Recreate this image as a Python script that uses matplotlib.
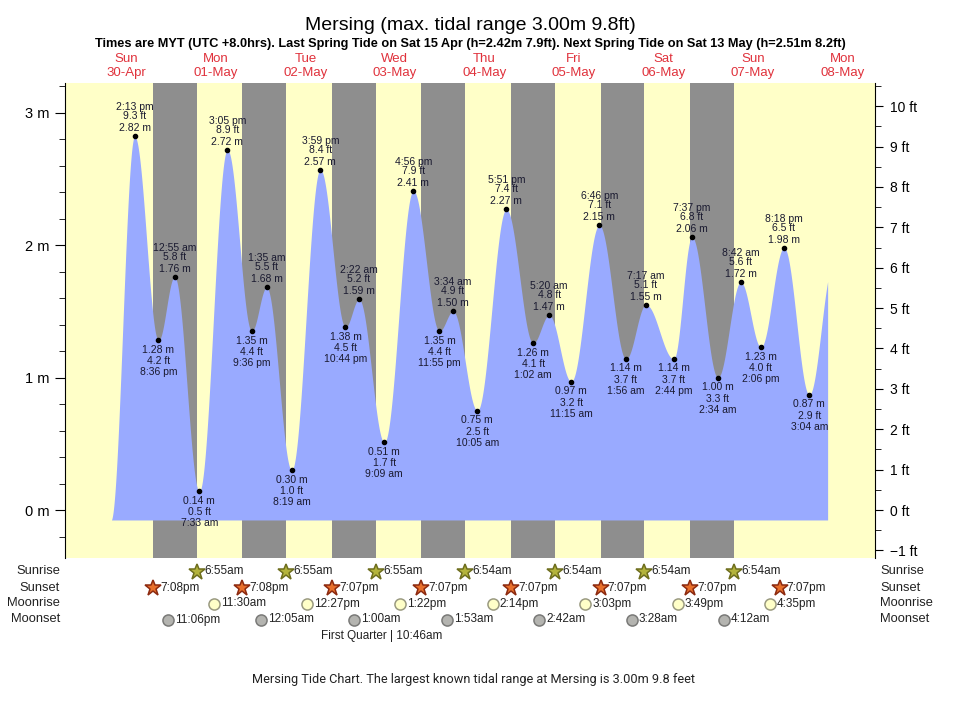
import numpy as np
import matplotlib.pyplot as plt
from matplotlib import transforms

plt.rcParams['font.family'] = ['Liberation Sans', 'DejaVu Sans']

# days shown along the top (index 0 = Sun 30-Apr)
day_names = ['Sun', 'Mon', 'Tue', 'Wed', 'Thu', 'Fri', 'Sat', 'Sun', 'Mon']
day_dates = ['30-Apr', '01-May', '02-May', '03-May', '04-May',
             '05-May', '06-May', '07-May', '08-May']

# tide extremes
tide_day = [0, 0, 1, 1, 1, 1, 2, 2, 2, 2, 3, 3, 3, 3, 4, 4, 4,
            5, 5, 5, 5, 6, 6, 6, 6, 7, 7, 7, 7, 8]
tide_clock = ['2:13 pm', '8:36 pm', '12:55 am', '7:33 am', '3:05 pm', '9:36 pm',
              '1:35 am', '8:19 am', '3:59 pm', '10:44 pm', '2:22 am', '9:09 am',
              '4:56 pm', '11:55 pm', '3:34 am', '10:05 am', '5:51 pm', '1:02 am',
              '5:20 am', '11:15 am', '6:46 pm', '1:56 am', '7:17 am', '2:44 pm',
              '7:37 pm', '2:34 am', '8:42 am', '2:06 pm', '8:18 pm', '3:04 am']
tide_m = [2.82, 1.28, 1.76, 0.14, 2.72, 1.35, 1.68, 0.30, 2.57, 1.38, 1.59, 0.51,
          2.41, 1.35, 1.50, 0.75, 2.27, 1.26, 1.47, 0.97, 2.15, 1.14, 1.55, 1.14,
          2.06, 1.00, 1.72, 1.23, 1.98, 0.87]

# unlabelled extremes just outside the drawn curve (estimated)
edge_day = [0, 8]
edge_clock = ['7:50 am', '9:30 am']
edge_m = [-0.08, 1.85]
curve_from = (0, '8:00 am')
curve_to = (8, '8:00 am')

sunrise_day = [1, 2, 3, 4, 5, 6, 7]
sunrise_clock = ['6:55am', '6:55am', '6:55am', '6:54am', '6:54am', '6:54am', '6:54am']
sunset_day = [0, 1, 2, 3, 4, 5, 6, 7]
sunset_clock = ['7:08pm', '7:08pm', '7:07pm', '7:07pm', '7:07pm', '7:07pm', '7:07pm', '7:07pm']
moonrise_day = [1, 2, 3, 4, 5, 6, 7]
moonrise_clock = ['11:30am', '12:27pm', '1:22pm', '2:14pm', '3:03pm', '3:49pm', '4:35pm']
moonset_day = [0, 2, 3, 4, 5, 6, 7]
moonset_clock = ['11:06pm', '12:05am', '1:00am', '1:53am', '2:42am', '3:28am', '4:12am']
phase_day = 3
phase_clock = '10:46am'
phase_name = 'First Quarter'


def hours(day, clock):
    c = clock.replace(' ', '')
    hh, mm = c[:-2].split(':')
    h = int(hh) % 12 + (12 if c.endswith('pm') else 0)
    return day * 24 + h + int(mm) / 60


tide_t = [hours(d, c) for d, c in zip(tide_day, tide_clock)]
ext_t = [hours(edge_day[0], edge_clock[0])] + tide_t + [hours(edge_day[1], edge_clock[1])]
ext_h = [edge_m[0]] + tide_m + [edge_m[1]]

# smooth curve between extremes
t = np.linspace(hours(*curve_from), hours(*curve_to), 3000)
h = np.zeros_like(t)
for i in range(len(ext_t) - 1):
    t0, t1, h0, h1 = ext_t[i], ext_t[i + 1], ext_h[i], ext_h[i + 1]
    sel = (t >= t0) & (t <= t1)
    h[sel] = h0 + (h1 - h0) * (1 - np.cos(np.pi * (t[sel] - t0) / (t1 - t0))) / 2

fig = plt.figure(figsize=(9.6, 7.07), dpi=100)
ax = fig.add_axes([65 / 960, 1 - 558 / 707, 810 / 960, 475 / 707])
ax.set_facecolor('#ffffc8')
ax.set_xlim(-4.45, 212.7)
ax.set_ylim(-0.362, 3.223)

# nights
rise_t = [hours(d, c) for d, c in zip(sunrise_day, sunrise_clock)]
set_t = [hours(d, c) for d, c in zip(sunset_day, sunset_clock)]
for s, r in zip(set_t, rise_t):
    ax.axvspan(s, r, color='#8e8e8e', lw=0, zorder=1)

ax.fill_between(t, -0.075, h, color='#99aaff', lw=0, zorder=2)
ax.plot(tide_t, tide_m, 'o', color='black', ms=3, zorder=4)

lab = dict(ha='center', va='center', fontsize=7.5, color='#1a1a30',
           textcoords='offset pixels', zorder=5)
for i, (tt, hh) in enumerate(zip(tide_t, tide_m)):
    ft = f'{hh / 0.3048:.1f} ft'
    high = hh > ext_h[i] and hh > ext_h[i + 2]
    if high:
        ax.annotate(f'{hh:.2f} m', (tt, hh), xytext=(0, 8), **lab)
        ax.annotate(ft, (tt, hh), xytext=(0, 20), **lab)
        ax.annotate(tide_clock[i], (tt, hh), xytext=(0, 29), **lab)
    else:
        ax.annotate(f'{hh:.2f} m', (tt, hh), xytext=(0, -9.5), **lab)
        ax.annotate(ft, (tt, hh), xytext=(0, -21), **lab)
        ax.annotate(tide_clock[i], (tt, hh), xytext=(0, -32), **lab)

# axes styling
ax.xaxis.tick_top()
ax.set_xticks([d * 24 + 12 for d in range(len(day_names))])
ax.set_xticklabels([f'{n}\n{d}' for n, d in zip(day_names, day_dates)],
                   color='#e0323c', fontsize=9.5, linespacing=1.15)
ax.tick_params(axis='x', length=0, pad=3)
ax.set_yticks([0, 1, 2, 3])
ax.set_yticklabels([f'{v} m' for v in range(4)], fontsize=10.5)
ax.set_yticks(np.arange(-0.2, 3.21, 0.2), minor=True)
ax.tick_params(axis='y', which='major', direction='out', length=7, pad=4)
ax.tick_params(axis='y', which='minor', direction='out', length=4)
for sp in ['top', 'bottom', 'right']:
    ax.spines[sp].set_visible(False)

ax2 = ax.twinx()
ax2.set_ylim(-0.362 / 0.3048, 3.223 / 0.3048)
ax2.set_yticks(range(-1, 11))
ax2.set_yticklabels([f'{v} ft'.replace('-', '\u2212') for v in range(-1, 11)], fontsize=10)
ax2.set_yticks(np.arange(-1, 10.6, 0.5), minor=True)
ax2.tick_params(axis='y', which='major', direction='out', length=6, pad=5)
ax2.tick_params(axis='y', which='minor', direction='out', length=4)
for sp in ['top', 'bottom', 'left']:
    ax2.spines[sp].set_visible(False)

# titles
fig.text(470 / 960, 1 - 25 / 707, 'Mersing (max. tidal range 3.00m 9.8ft)',
         ha='center', va='center', fontsize=14)
fig.text(470 / 960, 1 - 44 / 707,
         'Times are MYT (UTC +8.0hrs). Last Spring Tide on Sat 15 Apr (h=2.42m 7.9ft). '
         'Next Spring Tide on Sat 13 May (h=2.51m 8.2ft)',
         ha='center', va='center', fontsize=9.2, fontweight='bold')

# sun / moon rows
blend = transforms.blended_transform_factory(ax.transData, fig.transFigure)
rows = [
    ('Sunrise', sunrise_day, sunrise_clock, 571.5, '*', 12, '#b4b43c', '#6e6e1e'),
    ('Sunset', sunset_day, sunset_clock, 588, '*', 12, '#e8702c', '#8c2a10'),
    ('Moonrise', moonrise_day, moonrise_clock, 603.5, 'o', 8, '#ffffc8', '#9a9a80'),
    ('Moonset', moonset_day, moonset_clock, 619.5, 'o', 8, '#b4b4b0', '#7a7a78'),
]
for name, days, clocks, ypx, mk, ms, fc, ec in rows:
    y = 1 - ypx / 707
    fig.text(60 / 960, y, name, ha='right', va='center', fontsize=9.3, color='#222222')
    fig.text(880 / 960, y, name, ha='left', va='center', fontsize=9.3, color='#222222')
    xs = [hours(d, c) for d, c in zip(days, clocks)]
    ax.plot(xs, [y] * len(xs), ls='none', marker=mk, ms=ms, mfc=fc, mec=ec, mew=1.1,
            transform=blend, clip_on=False, zorder=6)
    for x, c in zip(xs, clocks):
        ax.annotate(c, (x, y), xycoords=blend, xytext=(7, 0), textcoords='offset pixels',
                    ha='left', va='center', fontsize=8.5, color='#222222',
                    annotation_clip=False)

ax.annotate(f'{phase_name} | {phase_clock}', (hours(phase_day, phase_clock), 1 - 636 / 707),
            xycoords=blend, xytext=(-9, 0), textcoords='offset pixels',
            ha='center', va='center', fontsize=8.5, color='#222222', annotation_clip=False)

fig.text(473 / 960, 1 - 680 / 707,
         'Mersing Tide Chart. The largest known tidal range at Mersing is 3.00m 9.8 feet',
         ha='center', va='center', fontsize=9.2, color='#222222', family=['Roboto', 'DejaVu Sans'])

fig.savefig('out.png', dpi=100, facecolor='white')
